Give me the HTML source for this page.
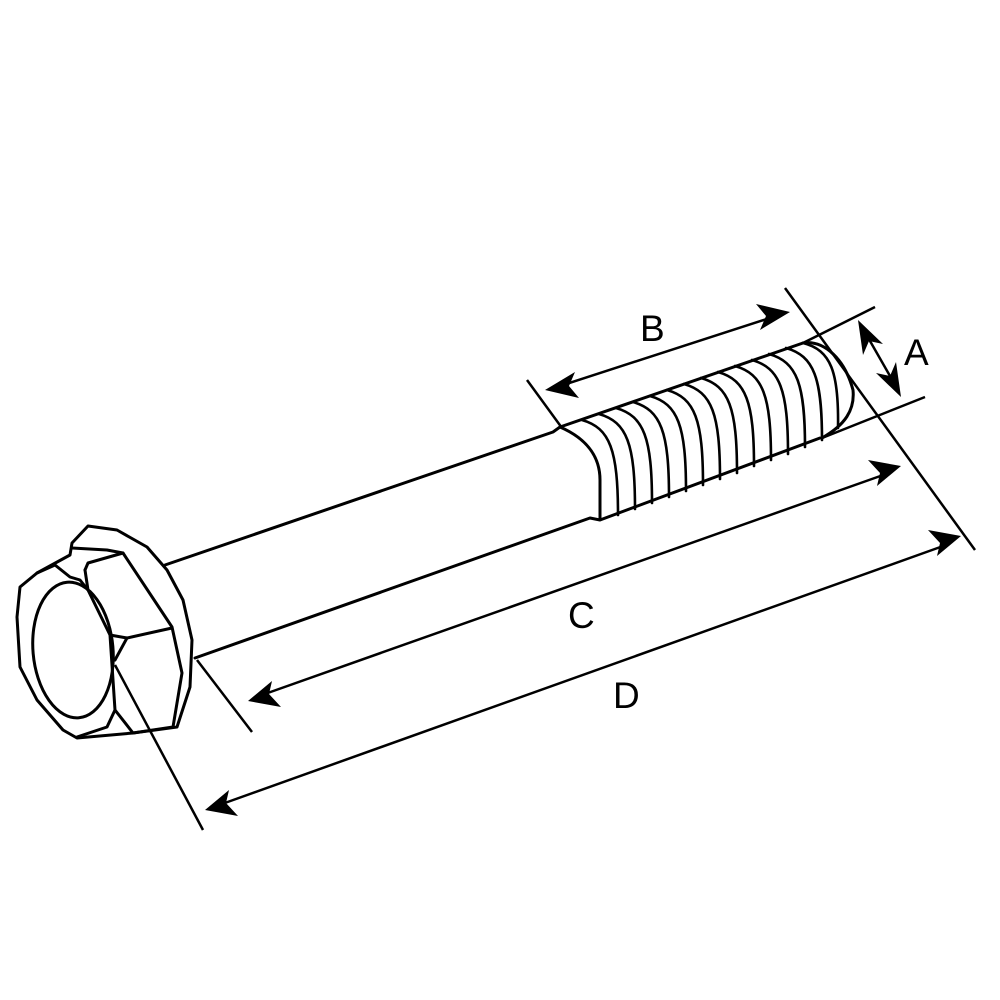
<!DOCTYPE html>
<html><head><meta charset="utf-8"><style>
html,body{margin:0;padding:0;background:#fff}
svg{display:block}
text{font-family:"Liberation Sans",sans-serif;font-size:37px;fill:#000}
</style></head><body>
<svg width="1000" height="1000" viewBox="0 0 1000 1000">
<g fill="none" stroke="#000" stroke-width="3" stroke-linejoin="round" stroke-linecap="round">
<path d="M165,565 L553,432 L560,427 L803,343"/>
<path d="M195,658 L590,518 L600,520 L820,438"/>
<path d="M560,427 C590,440 600,460 600,480 L600,519"/>
<path d="M803,343 C825,340 845,360 853,390 C855,410 845,425 822,438"/>
<g stroke-width="2.6">
<path d="M582,420 C610,428 618,450 618,515"/>
<path d="M599,414 C627,422 635,444 635,509"/>
<path d="M616,408 C644,416 652,438 652,503"/>
<path d="M633,402 C661,410 669,432 669,497"/>
<path d="M650,396 C678,404 686,426 686,491"/>
<path d="M667,390 C695,398 703,420 703,485"/>
<path d="M684,384 C712,392 720,414 720,479"/>
<path d="M701,378 C729,386 737,408 737,473"/>
<path d="M718,372 C746,380 754,402 754,466"/>
<path d="M735,366 C763,374 771,396 771,460"/>
<path d="M752,360 C780,368 788,390 788,454"/>
<path d="M769,354 C797,362 805,384 805,447"/>
<path d="M786,348 C814,356 822,378 822,440"/>
<path d="M803,343 C831,350 839,372 838,428"/>
</g>
<path d="M88,526 L117,530 L147,547 L167,570 L183,600 L192,640 L190,687 L177,727 L133,733 L77,738 L63,730 L37,700 L20,667 L17,617 L20,587 L37,573 L70,555 L72,543 Z"/>
<path d="M72,548 L107,550 L123,553"/>
<path d="M37,573 L55,565 L70,577 L80,580 L88,590"/>
<path d="M85,570 L88,563 L123,553 L172,627 L182,673 L173,727 L133,733"/>
<path d="M85,570 L88,590 L110,635 L127,638 L172,628"/>
<path d="M127,638 L115,660"/>
<path d="M110,635 L115,710 L107,727 L77,737"/>
<path d="M115,710 L133,733"/>
<ellipse cx="73" cy="650" rx="40" ry="68" transform="rotate(-5 73 650)"/>
</g>
<g fill="none" stroke="#000" stroke-width="2.5">
<line x1="527" y1="380" x2="562" y2="428"/>
<line x1="785" y1="288" x2="975" y2="550"/>
<line x1="803" y1="343" x2="875" y2="307"/>
<line x1="822" y1="438" x2="925" y2="397"/>
<line x1="197" y1="660" x2="252" y2="732"/>
<line x1="115" y1="665" x2="203" y2="830"/>
<line x1="560" y1="386" x2="776" y2="316"/>
<line x1="866" y1="334" x2="894" y2="383"/>
<line x1="262" y1="695" x2="886" y2="474"/>
<line x1="222" y1="804" x2="946" y2="545"/>
</g>
<g fill="#000">
<polygon points="545,390 575,372 569,386 579,398"/>
<polygon points="790,312 760,330 766,316 756,304"/>
<polygon points="858,320 883,344 869,341 863,355"/>
<polygon points="901,397 876,373 890,376 896,362"/>
<polygon points="248,701 272,681 269,694 281,707"/>
<polygon points="901,466 877,486 880,473 868,460"/>
<polygon points="205,810 229,790 226,803 238,816"/>
<polygon points="961,536 937,556 940,543 928,530"/>
</g>
<text x="640" y="341">B</text>
<text x="904" y="365">A</text>
<text x="568" y="628">C</text>
<text x="613" y="708">D</text>
</svg>
</body></html>
